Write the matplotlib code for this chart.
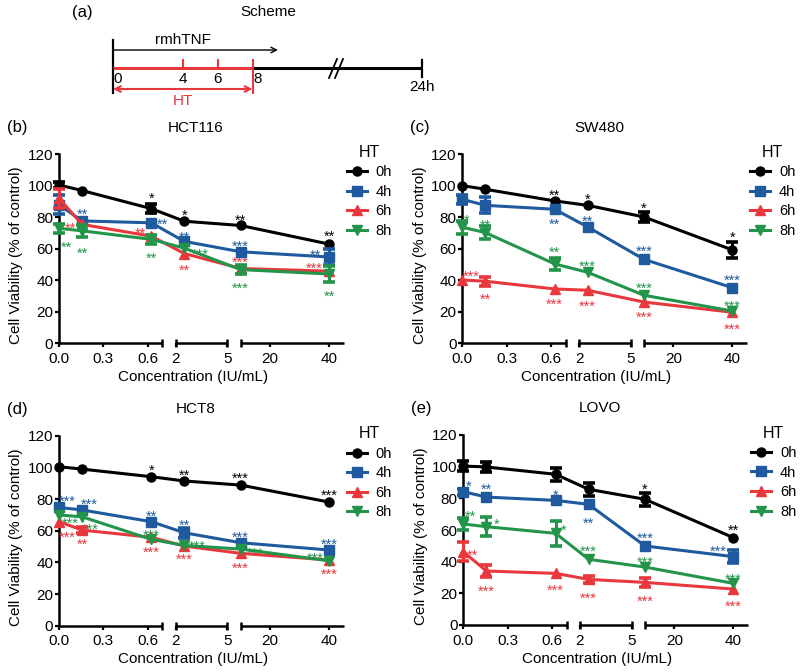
import numpy as np
import matplotlib
matplotlib.use('Agg')
import matplotlib.pyplot as plt

plt.rcParams['font.family'] = ['Liberation Sans', 'DejaVu Sans']

# rmhTNF concentrations (IU/mL), 4-fold dilution from 40
conc = [0, 0.156, 0.625, 2.5, 10, 40]
htLabels = ['0h', '4h', '6h', '8h']
xTicks = [0, 0.3, 0.6, 2, 5, 20, 40]
xTickLabels = ['0.0', '0.3', '0.6', '2', '5', '20', '40']
yTicks = [0, 20, 40, 60, 80, 100, 120]

# scheme time points (h)
schemeTicks = [0, 4, 6, 8]
schemeEnd = 24

# mean viability, one row per HT group (0h, 4h, 6h, 8h)
hct116Mean = [
    [100.5, 97.0, 85.5, 77.5, 74.8, 63.0],
    [88.0, 77.7, 76.5, 64.7, 58.1, 54.8],
    [92.0, 75.5, 68.0, 57.0, 47.5, 45.8],
    [73.0, 71.4, 66.0, 60.4, 46.8, 44.0],
]
hct116Sd = [
    [2, 0, 3, 0, 0, 0],
    [6, 0, 0, 0, 0, 5],
    [6, 0, 0, 0, 0, 0],
    [3, 4, 3, 0, 3, 5],
]
sw480Mean = [
    [100.1, 97.8, 90.4, 87.6, 80.2, 59.3],
    [91.4, 87.6, 85.1, 73.9, 53.3, 35.3],
    [40.2, 39.4, 34.5, 33.7, 26.2, 19.7],
    [73.7, 70.3, 50.4, 45.1, 30.5, 20.5],
]
sw480Sd = [
    [0, 0, 0, 0, 3, 5],
    [3, 5, 0, 0, 0, 0],
    [0, 3, 0, 0, 0, 0],
    [4, 4, 4, 0, 0, 0],
]
hct8Mean = [
    [100.4, 98.9, 94.1, 91.4, 88.8, 78.1],
    [74.7, 73.1, 65.7, 58.7, 52.4, 47.8],
    [65.7, 60.4, 55.8, 50.3, 45.7, 41.5],
    [69.9, 68.8, 54.5, 50.7, 48.4, 41.0],
]
hct8Sd = [
    [0, 0, 0, 0, 0, 0],
    [0, 0, 0, 3, 0, 0],
    [0, 2, 0, 0, 0, 0],
    [0, 0, 0, 0, 0, 0],
]
lovoMean = [
    [100.4, 99.8, 95.2, 85.7, 79.4, 55.2],
    [84.2, 80.8, 78.7, 76.2, 49.9, 43.2],
    [46.3, 34.1, 32.6, 28.8, 26.9, 22.7],
    [63.8, 62.1, 57.9, 41.5, 36.6, 26.3],
]
lovoSd = [
    [3, 3, 4, 4, 4, 0],
    [2, 0, 0, 0, 0, 4],
    [6, 4, 0, 2, 3, 0],
    [4, 6, 8, 0, 0, 0],
]

# significance marks: (group, point, text, x shift px, y of star)
hct116Stars = [
    (0, 2, '*', 0, 94.7), (0, 3, '*', 0, 84.1), (0, 4, '**', 0, 80.9), (0, 5, '**', 0, 70.4),
    (1, 1, '**', 0, 84.5), (1, 2, '**', 11, 78.4), (1, 3, '**', 0, 69.9), (1, 4, '***', 0, 64.0),
    (1, 5, '**', -14, 58.7),
    (2, 0, '**', 11, 75.6), (2, 2, '**', -11, 72.5), (2, 3, '**', 0, 48.8), (2, 4, '***', 0, 53.9),
    (2, 5, '***', -15, 50.3),
    (3, 0, '**', 7, 63.6), (3, 1, '**', 0, 59.4), (3, 2, '**', 0, 56.6), (3, 3, '***', 16, 59.2),
    (3, 4, '***', 0, 37.2), (3, 5, '**', 0, 32.1),
]
sw480Stars = [
    (0, 2, '**', 0, 96.3), (0, 3, '*', 0, 94.2), (0, 4, '*', 0, 88.5), (0, 5, '*', 0, 69.8),
    (1, 2, '**', 0, 78.3), (1, 3, '**', 0, 80.0), (1, 4, '***', 0, 61.0), (1, 5, '***', 0, 42.3),
    (2, 0, '***', 9, 45.1), (2, 1, '**', 0, 30.5), (2, 2, '***', 0, 27.1), (2, 3, '***', 0, 25.8),
    (2, 4, '***', 0, 19.0), (2, 5, '***', 0, 11.6),
    (3, 0, '*', 4, 80.4), (3, 1, '**', 0, 77.5), (3, 2, '**', 0, 60.1), (3, 3, '***', 0, 51.2),
    (3, 4, '***', 0, 37.5), (3, 5, '***', 0, 25.8),
]
hct8Stars = [
    (0, 2, '*', 0, 100.8), (0, 3, '**', 0, 97.7), (0, 4, '***', 0, 95.6), (0, 5, '***', 0, 84.6),
    (1, 0, '***', 8, 81.0), (1, 1, '***', 7, 79.4), (1, 2, '**', 0, 71.4), (1, 3, '**', 0, 65.7),
    (1, 4, '***', 0, 58.3), (1, 5, '***', 0, 54.1),
    (2, 0, '***', 8, 58.3), (2, 1, '**', 0, 54.1), (2, 2, '***', 0, 48.8), (2, 3, '***', 0, 44.2),
    (2, 4, '***', 0, 38.9), (2, 5, '***', 0, 34.7),
    (3, 0, '***', 11, 67.4), (3, 1, '***', 8, 63.2), (3, 2, '***', 0, 59.4), (3, 3, '***', 13, 52.6),
    (3, 4, '***', 15, 48.4), (3, 5, '***', -14, 45.0),
]
lovoStars = [
    (0, 4, '*', 0, 88.0), (0, 5, '**', 0, 62.5),
    (1, 0, '*', 5, 90.3), (1, 1, '**', 0, 88.0), (1, 2, '*', 0, 84.6), (1, 3, '**', 0, 66.9),
    (1, 4, '***', 0, 57.5), (1, 5, '***', -15, 49.1),
    (2, 0, '**', 9, 46.7), (2, 1, '***', 0, 23.6), (2, 2, '***', 0, 24.2), (2, 3, '***', 0, 19.4),
    (2, 4, '***', 0, 17.3), (2, 5, '***', 0, 14.3),
    (3, 0, '**', 7, 71.2), (3, 1, '*', 10, 65.9), (3, 2, '*', 8, 62.1), (3, 3, '***', 0, 49.1),
    (3, 4, '***', 0, 42.1), (3, 5, '***', 0, 31.6),
]

colors = ['#000000', '#1F5A9E', '#E8383D', '#23954A']
markers = ['o', 's', '^', 'v']

# broken x axis: concentration -> plotted position (pixel-like units)
segments = [(0, 0.7), (2, 5), (10, 45)]
brkConc = [-1, 0, 0.7, 2, 5, 10, 45, 100]
brkPos = [-147.7, 0, 103.4, 116.7, 168.3, 181.7, 284.7, 446.6]


def fwd(x):
    return np.interp(x, brkConc, brkPos)


def inv(p):
    return np.interp(p, brkPos, brkConc)


def drawPanel(ax, means, sds, stars, title, letter):
    ax.set_xscale('function', functions=(fwd, inv))
    x = np.array(conc)
    for i in range(4):
        y = np.array(means[i])
        sd = np.array(sds[i], dtype=float)
        ax.plot(x, y, color=colors[i], marker=markers[i], ms=6.5, lw=2.2,
                label=htLabels[i], clip_on=False, zorder=3 + i)
        m = sd > 0
        if m.any():
            ax.errorbar(x[m], y[m], yerr=sd[m], fmt='none', ecolor=colors[i],
                        elinewidth=2.2, capsize=4.5, capthick=2.6,
                        clip_on=False, zorder=3 + i)
    for g, k, txt, dx, yv in stars:
        ax.annotate(txt, xy=(conc[k], yv), xytext=(dx, -8.5),
                    textcoords='offset pixels', ha='center', va='baseline',
                    color=colors[g], fontsize=10.5, annotation_clip=False)

    ax.set_xlim(0, 45)
    ax.set_ylim(0, 120)
    ax.set_yticks(yTicks)
    ax.set_xticks(xTicks)
    ax.set_xticklabels(xTickLabels)
    ax.xaxis.set_minor_locator(matplotlib.ticker.NullLocator())
    for s in ['top', 'right', 'bottom']:
        ax.spines[s].set_visible(False)
    ax.spines['left'].set_linewidth(1.8)
    ax.tick_params(axis='both', direction='out', length=3.2, width=1.6,
                   labelsize=11)
    ax.tick_params(axis='y', pad=1)
    ax.tick_params(axis='x', pad=3)

    # x axis drawn as three pieces with end caps
    trans = ax.get_xaxis_transform()
    for a, b in segments:
        ax.plot([a, b], [0, 0], transform=trans, color='k', lw=1.8,
                clip_on=False, solid_capstyle='butt', zorder=2)
    caps = [segments[0][1], segments[1][0], segments[1][1], segments[2][0]]
    ax.plot(caps, [0] * len(caps), transform=trans, ls='none', marker='|',
            ms=6, mew=1.8, color='k', clip_on=False, zorder=2)

    ax.set_xlabel('Concentration (IU/mL)', fontsize=11)
    ax.xaxis.set_label_coords(0.47, -0.14)
    ax.set_ylabel('Cell Viability (% of control)', fontsize=11)
    ax.yaxis.set_label_coords(-0.125, 0.467)
    ax.text(0.48, 1.14, title, transform=ax.transAxes, ha='center',
            va='center', fontsize=11)
    ax.text(-0.148, 1.14, letter, transform=ax.transAxes, ha='center',
            va='center', fontsize=12)
    ax.legend(title='HT', loc='upper left', bbox_to_anchor=(1.01, 1.05),
              frameon=False, fontsize=10.5, title_fontsize=11.5,
              handlelength=1.4, handletextpad=0.6, labelspacing=0.38,
              borderpad=0, borderaxespad=0)


fig = plt.figure(figsize=(8, 6.72), dpi=100)

# ---- (a) scheme, drawn in pixel units ----
ax0 = fig.add_axes([0, 1 - 107 / 672, 1, 107 / 672])
ax0.set_xlim(0, 800)
ax0.set_ylim(107, 0)
ax0.axis('off')


def hourPos(h):
    return np.interp(h, [0, 8, 24], [113, 252.5, 422])


red = colors[2]
x0, x8, x24 = hourPos(0), hourPos(8), hourPos(schemeEnd)
ax0.plot([x0, x0], [40, 93], color='k', lw=1.6)
ax0.annotate('', xy=(278, 50), xytext=(x0, 50),
             arrowprops=dict(arrowstyle='->', lw=1.0, color='k',
                             shrinkA=0, shrinkB=0, mutation_scale=10))
ax0.text((x0 + 278) / 2 - 13, 40, 'rmhTNF', ha='center', va='center', fontsize=11)
ax0.plot([x0, x8], [68, 68], color=red, lw=2.2, solid_capstyle='butt')
ax0.plot([x8, x24], [68, 68], color='k', lw=2.2, solid_capstyle='butt')
for h in schemeTicks[1:3]:
    ax0.plot([hourPos(h)] * 2, [60, 68], color=red, lw=1.5)
ax0.plot([x8, x8], [60, 93], color=red, lw=1.5)
ax0.plot([x24, x24], [60, 77], color='k', lw=1.6)
for off in [0, 6]:
    ax0.plot([329 + off, 337 + off], [78, 59], color='k', lw=1.3)
for h in schemeTicks:
    xp = hourPos(h)
    if h == 0 or h == 8:
        xp = xp + 5
    ax0.text(xp, 79, str(h), ha='center', va='center', fontsize=11)
ax0.text(x24, 87, '%dh' % schemeEnd, ha='center', va='center', fontsize=11)
ax0.annotate('', xy=(x8, 89), xytext=(x0, 89),
             arrowprops=dict(arrowstyle='<->', lw=1.5, color=red,
                             shrinkA=0, shrinkB=0, mutation_scale=10))
ax0.text((x0 + x8) / 2, 101, 'HT', ha='center', va='center', fontsize=11, color=red)
ax0.text(268, 12, 'Scheme', ha='center', va='center', fontsize=11)
ax0.text(82, 13, '(a)', ha='center', va='center', fontsize=12)

# ---- (b)-(e) viability panels ----
axB = fig.add_axes([59 / 800, 1 - 343.3 / 672, 284.7 / 800, 189 / 672])
axC = fig.add_axes([462.3 / 800, 1 - 343.3 / 672, 284.7 / 800, 189 / 672])
axD = fig.add_axes([59 / 800, 1 - 625.7 / 672, 284.7 / 800, 190 / 672])
axE = fig.add_axes([463.3 / 800, 1 - 625 / 672, 284.7 / 800, 190 / 672])

drawPanel(axB, hct116Mean, hct116Sd, hct116Stars, 'HCT116', '(b)')
drawPanel(axC, sw480Mean, sw480Sd, sw480Stars, 'SW480', '(c)')
drawPanel(axD, hct8Mean, hct8Sd, hct8Stars, 'HCT8', '(d)')
drawPanel(axE, lovoMean, lovoSd, lovoStars, 'LOVO', '(e)')

fig.savefig('out.png', dpi=100)
